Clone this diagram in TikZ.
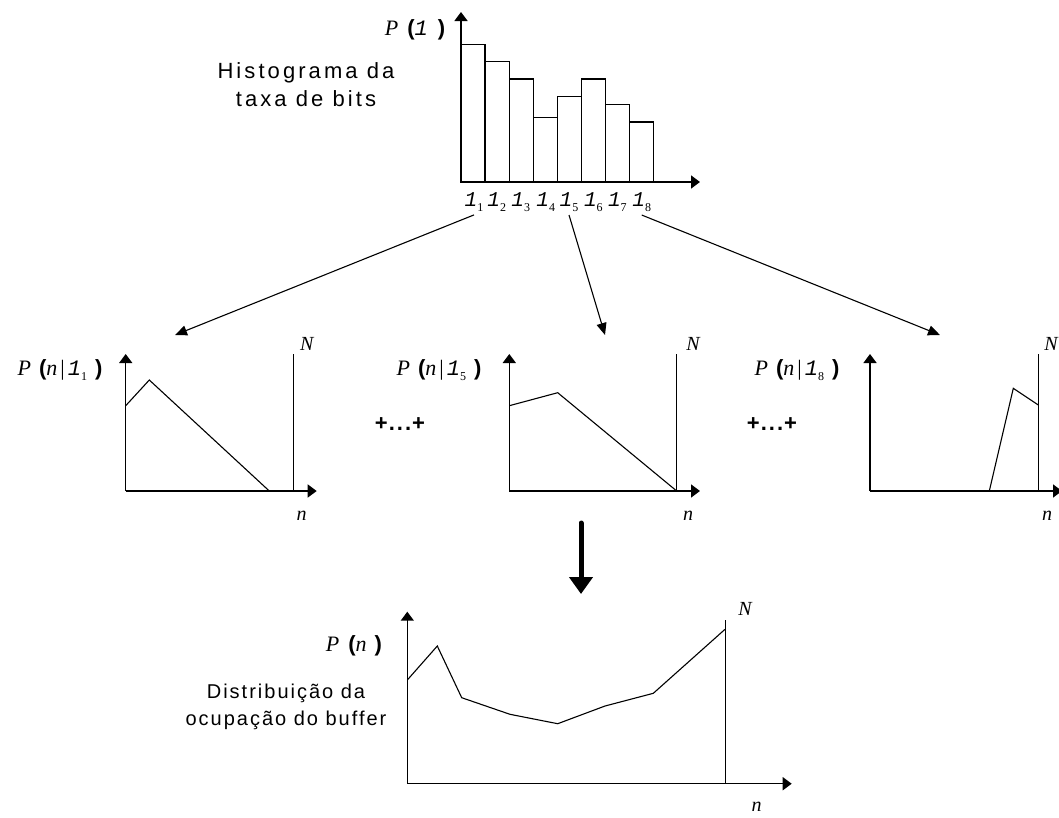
\documentclass[tikz,border=0pt]{standalone}
\usepackage{fontspec}
\usetikzlibrary{arrows.meta}
\setmainfont{Liberation Serif}
\newfontfamily\txtfont[LetterSpace=14]{Liberation Sans}
\newfontfamily\txtfontb[LetterSpace=10]{Liberation Sans}
\newfontfamily\parfont{Liberation Sans}
\newfontfamily\lamfont{Liberation Mono}
\newcommand\lsym{{\lamfont\itshape 1}}
\newcommand\lsub[1]{\lsym\raisebox{-5pt}{\fontsize{12}{12}\selectfont\upshape #1}}
\newcommand\lpar{{\parfont\bfseries(}}
\newcommand\rpar{{\parfont\bfseries)}}
\newcommand\plusdots{{\parfont\bfseries +\kern1pt.\kern2pt.\kern2pt.\kern1pt+}}
\begin{document}
\begin{tikzpicture}[x=1pt,y=-1pt,
  axis/.style={line width=1.5pt,-{Triangle[length=9pt,width=13pt]}},
  nline/.style={line width=1pt},
  curve/.style={line width=1.1pt},
  conn/.style={line width=1.1pt,-{Triangle[length=12pt,width=10pt]}},
  bigarrow/.style={line width=5pt,line cap=round,-{Triangle[length=17pt,width=23pt,line cap=butt]}},
  lab/.style={font=\fontsize{22}{26}\selectfont,inner sep=0pt},
  var/.style={font=\fontsize{20}{24}\selectfont\itshape,inner sep=0pt},
  txt/.style={font=\txtfont\fontsize{22}{26}\selectfont,inner sep=0pt,anchor=base},
  txtb/.style={font=\txtfontb\fontsize{20}{24}\selectfont,inner sep=0pt,anchor=base},
  idx/.style={font=\fontsize{21}{24}\selectfont,inner sep=0pt,anchor=base}]
\useasboundingbox (0,0) rectangle (1059,817);

% ---------- top histogram ----------
\coordinate (o0) at (461,182);
\coordinate (yt0) at (461,12);
\coordinate (xt0) at (700,182);
\draw[curve] (461,182) rectangle (485,44.3);
\draw[curve] (485,182) rectangle (509.3,61.7);
\draw[curve] (509.3,182) rectangle (533.3,79);
\draw[curve] (533.3,182) rectangle (557.3,117.7);
\draw[curve] (557.3,182) rectangle (581.3,96.3);
\draw[curve] (581.3,182) rectangle (605.7,79);
\draw[curve] (605.7,182) rectangle (629.3,104.7);
\draw[curve] (629.3,182) rectangle (653.3,122);
\draw[axis] (o0) -- (yt0);
\draw[axis] (o0) -- (xt0);
\node[lab] (pl) at (415,30) {\itshape P\hspace{9pt}\upshape\lpar\lsym\hspace{10pt}\rpar};
\node[txt] (h1) at (306,78) {Histograma da};
\node[txt] (h2) at (306,106) {taxa de bits};
\node[idx] (l1) at (474,206.7) {\lsub{1}};
\node[idx] (l2) at (496.7,206.7) {\lsub{2}};
\node[idx] (l3) at (520.7,206.7) {\lsub{3}};
\node[idx] (l4) at (545.7,206.7) {\lsub{4}};
\node[idx] (l5) at (569,206.7) {\lsub{5}};
\node[idx] (l6) at (593.3,206.7) {\lsub{6}};
\node[idx] (l7) at (617.3,206.7) {\lsub{7}};
\node[idx] (l8) at (641.7,206.7) {\lsub{8}};

\coordinate (a1) at (175,335);
\coordinate (a5) at (605,335);
\coordinate (a8) at (940,335);
\draw[conn] (l1.south) ++(0,3) coordinate (s1) (s1) -- (a1);
\draw[conn] (l5.south) ++(0,3) coordinate (s5) (s5) -- (a5);
\draw[conn] (l8.south) ++(0,3) coordinate (s8) (s8) -- (a8);

% ---------- chart 1 ----------
\coordinate (o1) at (125.7,491);
\draw[nline] (293.3,491) -- (293.3,354);
\draw[curve] (125.7,405.7) -- (149.3,380) -- (269.3,491);
\draw[axis] (o1) -- (125.7,354);
\draw[axis] (o1) -- (316.7,491);
\node[var] (N1) at (306.7,344) {N};
\node[var] (n1) at (301.7,516) {n};
\node[lab] (p1) at (60,370) {\itshape P\hspace{8pt}\upshape\lpar\itshape n\upshape\hspace{3pt}|\hspace{3pt}\lsub{1}\hspace{8pt}\rpar};

% ---------- chart 2 ----------
\coordinate (o2) at (509.3,491);
\draw[nline] (676.7,491) -- (676.7,354);
\draw[curve] (509.3,405.7) -- (557.7,392.7) -- (676.7,491);
\draw[axis] (o2) -- (509.3,354);
\draw[axis] (o2) -- (700,491);
\node[var] (N2) at (693,344) {N};
\node[var] (n2) at (688,516) {n};
\node[lab] (p5) at (439,370) {\itshape P\hspace{8pt}\upshape\lpar\itshape n\upshape\hspace{3pt}|\hspace{3pt}\lsub{5}\hspace{8pt}\rpar};
\node[lab] (d1) at (400,424) {\plusdots};

% ---------- chart 3 ----------
\coordinate (o3) at (870,491);
\draw[nline] (1038.3,491) -- (1038.3,354);
\draw[curve] (989.3,491) -- (1013.3,388.3) -- (1038.3,405);
\draw[axis] (o3) -- (870,354);
\draw[axis] (o3) -- (1062,491);
\node[var] (N3) at (1051,344) {N};
\node[var] (n3) at (1047,516) {n};
\node[lab] (p8) at (797,370) {\itshape P\hspace{8pt}\upshape\lpar\itshape n\upshape\hspace{3pt}|\hspace{3pt}\lsub{8}\hspace{8pt}\rpar};
\node[lab] (d2) at (772,424) {\plusdots};

% ---------- big arrow ----------
\coordinate (b1) at (581,523);
\coordinate (b2) at (581,594);
\draw[bigarrow] (b1) -- (b2);

% ---------- bottom chart ----------
\coordinate (o4) at (407.3,783.7);
\draw[nline] (725,783.7) -- (725,620);
\draw[curve] (407.3,680) -- (437.3,646) -- (461.7,697.7) -- (510,714.3) -- (557.7,723.7) -- (605,706) -- (653.3,693.3) -- (725,629.3);
\draw[axis] (o4) -- (407.3,611.7);
\draw[axis] (o4) -- (791.7,783.7);
\node[var] (N4) at (745,609.3) {N};
\node[var] (n4) at (756.7,807) {n};
\node[lab] (pn) at (354,646) {\itshape P\hspace{9pt}\upshape\lpar\itshape n\hspace{8pt}\upshape\rpar};
\node[txtb] (t1) at (286,698) {Distribuição da};
\node[txtb] (t2) at (286,725) {ocupação do buffer};
\end{tikzpicture}
\end{document}
